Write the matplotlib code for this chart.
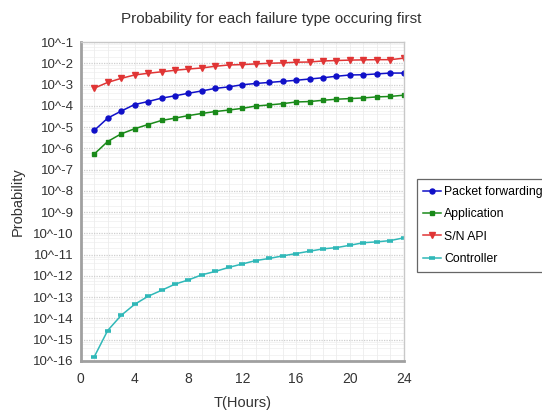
import matplotlib
matplotlib.use("Agg")
import matplotlib.pyplot as plt
import numpy as np

plt.rcParams["font.family"] = ["Liberation Sans", "DejaVu Sans"]

hours = list(range(1, 25))
# log10 of probability
packet_fwd_log = [-5.16, -4.58, -4.25, -3.94, -3.80, -3.64, -3.53, -3.41, -3.30, -3.18, -3.11, -3.01,
                  -2.95, -2.90, -2.85, -2.80, -2.74, -2.68, -2.61, -2.55, -2.54, -2.50, -2.46, -2.46]
application_log = [-6.27, -5.68, -5.32, -5.08, -4.88, -4.69, -4.58, -4.46, -4.36, -4.27, -4.20, -4.12,
                   -4.01, -3.96, -3.90, -3.82, -3.80, -3.74, -3.69, -3.66, -3.63, -3.58, -3.56, -3.50]
sn_api_log = [-3.17, -2.90, -2.71, -2.55, -2.47, -2.40, -2.33, -2.27, -2.22, -2.14, -2.08, -2.06,
              -2.03, -2.00, -1.98, -1.95, -1.94, -1.89, -1.87, -1.85, -1.84, -1.83, -1.83, -1.76]
controller_log = [-15.81, -14.57, -13.86, -13.34, -12.96, -12.68, -12.39, -12.19, -11.95, -11.79, -11.60, -11.44,
                  -11.28, -11.18, -11.06, -10.95, -10.84, -10.73, -10.67, -10.56, -10.44, -10.40, -10.34, -10.21]

series_names = ["Packet forwarding", "Application", "S/N API", "Controller"]
x_ticks = [0, 4, 8, 12, 16, 20, 24]
y_exponents = list(range(-16, 0))  # -16 .. -1

fig = plt.figure(figsize=(5.42, 4.12), dpi=100)
ax = fig.add_axes([0.149, 0.124, 0.596, 0.774])

styles = [
    (packet_fwd_log, "#1010c8", "o", 3.6),
    (application_log, "#1a8a1a", "s", 3.4),
    (sn_api_log, "#e03535", "v", 3.7),
    (controller_log, "#30b8b8", "_", 4.5),
]
for (vals, color, marker, ms), name in zip(styles, series_names):
    y = [10.0 ** v for v in vals]
    kw = dict(color=color, marker=marker, markersize=ms, linewidth=1.1, label=name)
    if marker == "_":
        kw["markeredgewidth"] = 2.6
    ax.plot(hours, y, **kw)

ax.set_yscale("log")
ax.set_xlim(0, 24)
ax.set_ylim(10.0 ** -16, 10.0 ** -1)
ax.set_xticks(x_ticks)
ax.set_xticklabels([str(t) for t in x_ticks], fontsize=10, color="#333333")
ax.set_yticks([10.0 ** e for e in y_exponents])
ax.set_yticklabels(["10^%d" % e for e in y_exponents], fontsize=9.5, color="#333333")
ax.minorticks_off()
ax.set_xticks(np.arange(0, 24.01, 1.0), minor=True)
ax.tick_params(axis="both", which="both", length=0, pad=5)
ax.tick_params(axis="x", pad=8)

ax.grid(True, which="major", axis="y", color="#cfcfcf", linestyle=(0, (1, 1)), linewidth=0.9)
ax.grid(True, which="both", axis="x", color="#ececec", linestyle="-", linewidth=0.6)
for e in y_exponents:
    for k in range(2, 10, 2):
        ax.axhline(k * 10.0 ** e, color="#efefef", linewidth=0.5, zorder=0)
ax.set_axisbelow(True)

for s in ["left", "bottom"]:
    ax.spines[s].set_color("#a0a0a0")
    ax.spines[s].set_linewidth(2.0)
for s in ["top", "right"]:
    ax.spines[s].set_color("#c8c8c8")
    ax.spines[s].set_linewidth(1.0)

ax.set_xlabel("T(Hours)", fontsize=10.5, color="#333333", labelpad=7)
ax.set_ylabel("Probability", fontsize=10.5, color="#333333", labelpad=6)
fig.text(0.5, 0.955, "Probability for each failure type occuring first", ha="center", va="center",
         fontsize=11, color="#333333")

leg = ax.legend(loc="upper left", bbox_to_anchor=(1.04, 0.57), fontsize=8.8, frameon=True,
                fancybox=False, edgecolor="#404040", handlelength=1.4, handletextpad=0.3,
                borderpad=0.55, labelspacing=0.85, borderaxespad=0)
leg.get_frame().set_linewidth(0.9)

fig.savefig("out.png", dpi=100)
